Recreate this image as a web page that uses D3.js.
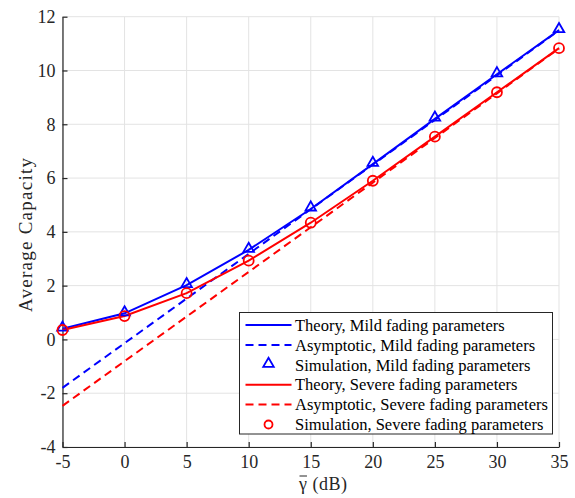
<!DOCTYPE html>
<html>
<head>
<meta charset="utf-8">
<script src="https://cdn.jsdelivr.net/npm/d3@7"></script>
<style>
  body { margin: 0; background: #fff; }
  text { font-family: "Liberation Serif", "DejaVu Serif", serif; }
</style>
</head>
<body>
<div id="chart"></div>
<script>
// x axis: average SNR in dB
var snrDb = [-5, 0, 5, 10, 15, 20, 25, 30, 35];

// mild fading parameters
var theoryMild = [0.40, 0.97, 2.02, 3.33, 4.85, 6.52, 8.20, 9.86, 11.50];
var asymMild = [-1.80, -0.14, 1.52, 3.18, 4.84, 6.50, 8.16, 9.82, 11.49];
var simMild = [0.40, 0.97, 2.02, 3.33, 4.87, 6.53, 8.21, 9.86, 11.50];

// severe fading parameters
var theorySevere = [0.35, 0.87, 1.72, 2.93, 4.34, 5.90, 7.54, 9.19, 10.83];
var asymSevere = [-2.47, -0.81, 0.85, 2.51, 4.17, 5.83, 7.49, 9.15, 10.82];
var simSevere = [0.35, 0.87, 1.72, 2.93, 4.34, 5.90, 7.54, 9.19, 10.83];

var xTicks = [-5, 0, 5, 10, 15, 20, 25, 30, 35];
var yTicks = [-4, -2, 0, 2, 4, 6, 8, 10, 12];

var legendLabels = [
    "Theory, Mild fading parameters",
    "Asymptotic, Mild fading parameters",
    "Simulation, Mild fading parameters",
    "Theory, Severe fading parameters",
    "Asymptotic, Severe fading parameters",
    "Simulation, Severe fading parameters"
];

var blue = "#0000ff", red = "#ff0000";

var margin = { left: 62.5, right: 16, top: 16.7, bottom: 51 };
var W = 575, H = 498;
var width = W - margin.left - margin.right;
var height = H - margin.top - margin.bottom;

var svg = d3.select("#chart").append("svg")
    .attr("width", W)
    .attr("height", H);
var g = svg.append("g")
    .attr("transform", "translate(" + margin.left + "," + margin.top + ")");

var x = d3.scaleLinear().domain([-5, 35]).range([0, width]);
var y = d3.scaleLinear().domain([-4, 12]).range([height, 0]);

// grid
g.append("g").selectAll("line.vg").data(xTicks).enter().append("line")
    .attr("x1", d => x(d)).attr("x2", d => x(d))
    .attr("y1", 0).attr("y2", height)
    .attr("stroke", "#e3e3e3").attr("stroke-width", 1);
g.append("g").selectAll("line.hg").data(yTicks).enter().append("line")
    .attr("y1", d => y(d)).attr("y2", d => y(d))
    .attr("x1", 0).attr("x2", width)
    .attr("stroke", "#e3e3e3").attr("stroke-width", 1);

// axes (ticks pointing inward), plain hyphen for negatives like the original
var fmt = d => String(d);
var xAxis = g.append("g")
    .attr("transform", "translate(0," + height + ")")
    .call(d3.axisBottom(x).tickValues(xTicks).tickFormat(fmt)
        .tickSizeInner(-5).tickSizeOuter(0).tickPadding(8));
var yAxis = g.append("g")
    .call(d3.axisLeft(y).tickValues(yTicks).tickFormat(fmt)
        .tickSizeInner(-5).tickSizeOuter(0).tickPadding(7));

[xAxis, yAxis].forEach(a => {
    a.select(".domain").attr("stroke", "#262626").attr("stroke-width", 1.2);
    a.selectAll(".tick line").attr("stroke", "#262626").attr("stroke-width", 1.2);
    a.selectAll(".tick text")
        .attr("fill", "#262626")
        .attr("font-size", "18px")
        .attr("font-family", "Liberation Serif, serif");
});
xAxis.selectAll(".tick text").attr("dy", "0.72em");

// axis labels
svg.append("text")
    .attr("transform", "translate(32,235) rotate(-90)")
    .attr("text-anchor", "middle")
    .attr("font-size", "19px")
    .attr("textLength", 154)
    .attr("lengthAdjust", "spacing")
    .attr("fill", "#262626")
    .text("Average Capacity");

var xl = svg.append("text")
    .attr("x", 299)
    .attr("y", 490)
    .attr("text-anchor", "start")
    .attr("font-size", "18px")
    .attr("textLength", 48)
    .attr("lengthAdjust", "spacing")
    .attr("fill", "#262626");
xl.append("tspan").attr("class", "gam").text("\u03b3");
xl.append("tspan").text(" (dB)");

// bar over gamma
var gb = xl.select(".gam").node();
var ext = gb.getExtentOfChar ? gb.getExtentOfChar(0) : null;
if (ext) {
    svg.append("line")
        .attr("x1", ext.x + 0.5).attr("x2", ext.x + ext.width)
        .attr("y1", 476).attr("y2", 476)
        .attr("stroke", "#262626").attr("stroke-width", 1);
}

var line = d3.line()
    .x((d, i) => x(snrDb[i]))
    .y(d => y(d));

var series = [
    { data: asymMild, color: blue, dash: "8,5" },
    { data: asymSevere, color: red, dash: "8,5" },
    { data: theoryMild, color: blue, dash: null },
    { data: theorySevere, color: red, dash: null }
];

g.selectAll("path.curve").data(series).enter().append("path")
    .attr("class", "curve")
    .attr("fill", "none")
    .attr("stroke", d => d.color)
    .attr("stroke-width", 2)
    .attr("stroke-dasharray", d => d.dash)
    .attr("d", d => line(d.data));

var tri = d3.symbol().type(d3.symbolTriangle).size(48);

g.selectAll("path.triMark").data(simMild).enter().append("path")
    .attr("class", "triMark")
    .attr("d", tri)
    .attr("transform", (d, i) => "translate(" + x(snrDb[i]) + "," + (y(d) - 1) + ")")
    .attr("fill", "none")
    .attr("stroke", blue)
    .attr("stroke-width", 1.8);

g.selectAll("circle.circMark").data(simSevere).enter().append("circle")
    .attr("class", "circMark")
    .attr("cx", (d, i) => x(snrDb[i]))
    .attr("cy", d => y(d))
    .attr("r", 5)
    .attr("fill", "none")
    .attr("stroke", red)
    .attr("stroke-width", 1.8);

// legend
var legend = svg.append("g").attr("transform", "translate(239.5,312.5)");
legend.append("rect")
    .attr("width", 313)
    .attr("height", 121.5)
    .attr("fill", "#fff")
    .attr("stroke", "#262626")
    .attr("stroke-width", 1);

var legendItems = [
    { color: blue, kind: "line", dash: null },
    { color: blue, kind: "line", dash: "8,5" },
    { color: blue, kind: "tri" },
    { color: red, kind: "line", dash: null },
    { color: red, kind: "line", dash: "8,5" },
    { color: red, kind: "circ" }
];

var rows = legend.selectAll("g.legendRow").data(legendItems).enter().append("g")
    .attr("class", "legendRow")
    .attr("transform", (d, i) => "translate(0," + (12.5 + i * 19.9) + ")");

rows.filter(d => d.kind === "line").append("line")
    .attr("x1", 6).attr("x2", 52)
    .attr("y1", 0).attr("y2", 0)
    .attr("stroke", d => d.color)
    .attr("stroke-width", 2)
    .attr("stroke-dasharray", d => d.dash);
rows.filter(d => d.kind === "tri").append("path")
    .attr("d", tri)
    .attr("transform", "translate(29,-1)")
    .attr("fill", "none")
    .attr("stroke", d => d.color)
    .attr("stroke-width", 1.8);
rows.filter(d => d.kind === "circ").append("circle")
    .attr("cx", 29).attr("cy", 0).attr("r", 4)
    .attr("fill", "none")
    .attr("stroke", d => d.color)
    .attr("stroke-width", 1.8);

rows.append("text")
    .attr("x", 55.5)
    .attr("y", 0)
    .attr("dy", "0.35em")
    .attr("font-size", "16.5px")
    .attr("fill", "#000")
    .text((d, i) => legendLabels[i]);
</script>
</body>
</html>
